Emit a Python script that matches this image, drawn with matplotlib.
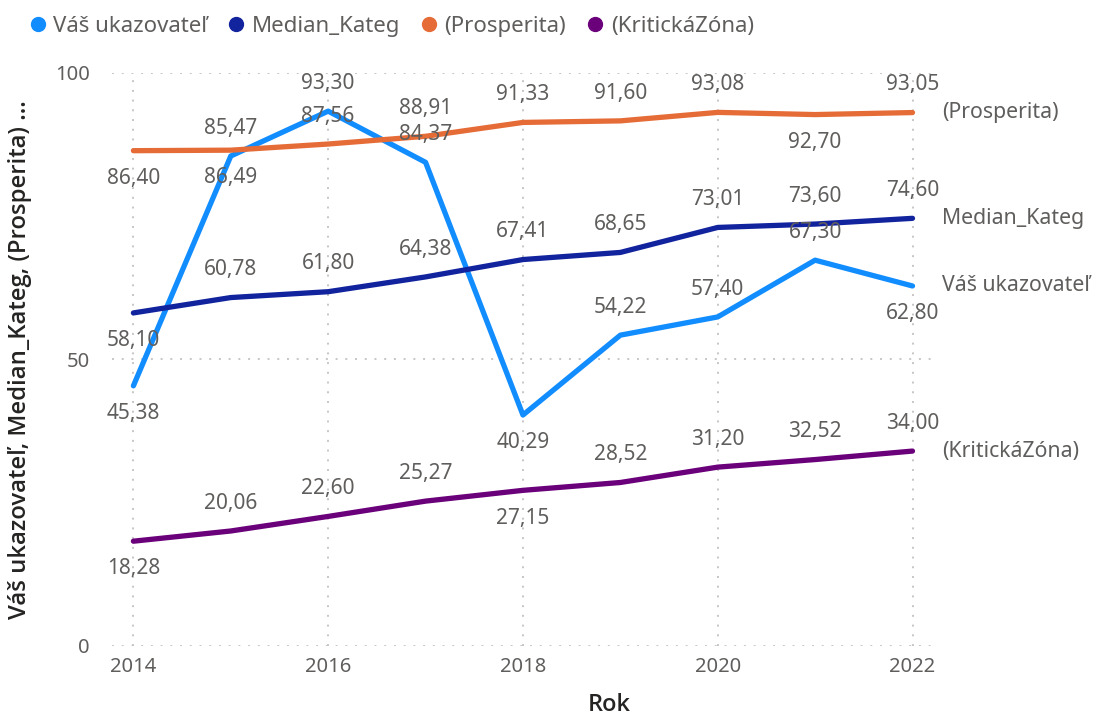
import numpy as np
import matplotlib
matplotlib.use("Agg")
import matplotlib.pyplot as plt
from matplotlib.lines import Line2D

plt.rcParams['font.family'] = ['Noto Sans', 'DejaVu Sans']

# data
years = [2014, 2015, 2016, 2017, 2018, 2019, 2020, 2021, 2022]
vas = [45.38, 85.47, 93.30, 84.37, 40.29, 54.22, 57.40, 67.30, 62.80]
median = [58.10, 60.78, 61.80, 64.38, 67.41, 68.65, 73.01, 73.60, 74.60]
prosperita = [86.40, 86.49, 87.56, 88.91, 91.33, 91.60, 93.08, 92.70, 93.05]
kriticka = [18.28, 20.06, 22.60, 25.27, 27.15, 28.52, 31.20, 32.52, 34.00]
names = ["Váš ukazovateľ", "Median_Kateg", "(Prosperita)", "(KritickáZóna)"]
x_ticks = [2014, 2016, 2018, 2020, 2022]
y_ticks = [0, 50, 100]

colors = ["#118DFF", "#12239E", "#E66C37", "#6B007B"]
grey = "#605E5C"

# where each data label sits: +1 above the point, -1 below
label_side = [
    [-1, 1, 1, 1, -1, 1, 1, 1, -1],
    [-1, 1, 1, 1, 1, 1, 1, 1, 1],
    [-1, -1, 1, 1, 1, 1, 1, -1, 1],
    [-1, 1, 1, 1, -1, 1, 1, 1, 1],
]

fig = plt.figure(figsize=(11.01, 7.2), dpi=100)
ax = fig.add_axes([0.1017, 0.1028, 0.7439, 0.7962])

series = [vas, median, prosperita, kriticka]
for vals, col, name, sides in zip(series, colors, names, label_side):
    ax.plot(years, vals, color=col, lw=3.8, solid_joinstyle='round',
            solid_capstyle='round', zorder=3, clip_on=False)
    for xv, yv, s in zip(years, vals, sides):
        ax.annotate(f"{yv:.2f}".replace(".", ","), (xv, yv),
                    xytext=(0, 20 * s), textcoords='offset points',
                    ha='center', va='center', fontsize=15, color=grey,
                    zorder=4, annotation_clip=False)
    ax.annotate(name, (years[-1], vals[-1]), xytext=(21, 0),
                textcoords='offset points', ha='left', va='center',
                fontsize=15.3, color=grey, annotation_clip=False)

ax.set_xlim(2013.78, 2022.19)
ax.set_ylim(0, 100)
ax.set_xticks(x_ticks)
ax.set_yticks(y_ticks)
ax.tick_params(length=0, labelsize=14.5, labelcolor=grey)
ax.tick_params(axis='y', pad=16)
ax.tick_params(axis='x', pad=8)
ax.grid(True, color="#C8C6C4", linestyle=(0, (1, 4)), lw=1.4)
for sp in ax.spines.values():
    sp.set_visible(False)

bold_font = ['Open Sans', 'DejaVu Sans']
fig.text(609 / 1101, 1 - 705 / 720, "Rok", ha='center', va='center',
         fontsize=17, fontweight='semibold', family=bold_font,
         color="#252423")
fig.text(20 / 1101, 1 - 360 / 720,
         "Váš ukazovateľ, Median_Kateg, (Prosperita) ...",
         rotation=90, ha='center', va='center', fontsize=17.2,
         fontweight='semibold', family=bold_font, color="#252423")

handles = [Line2D([], [], marker='o', ls='', color=c, markersize=10)
           for c in colors]
fig.legend(handles, names, loc='upper left', bbox_to_anchor=(0.0, 1.0),
           ncol=4, frameon=False, fontsize=16, labelcolor=grey,
           handletextpad=-0.3, columnspacing=0.3, borderaxespad=0.3)

fig.savefig("out.png", dpi=100)
